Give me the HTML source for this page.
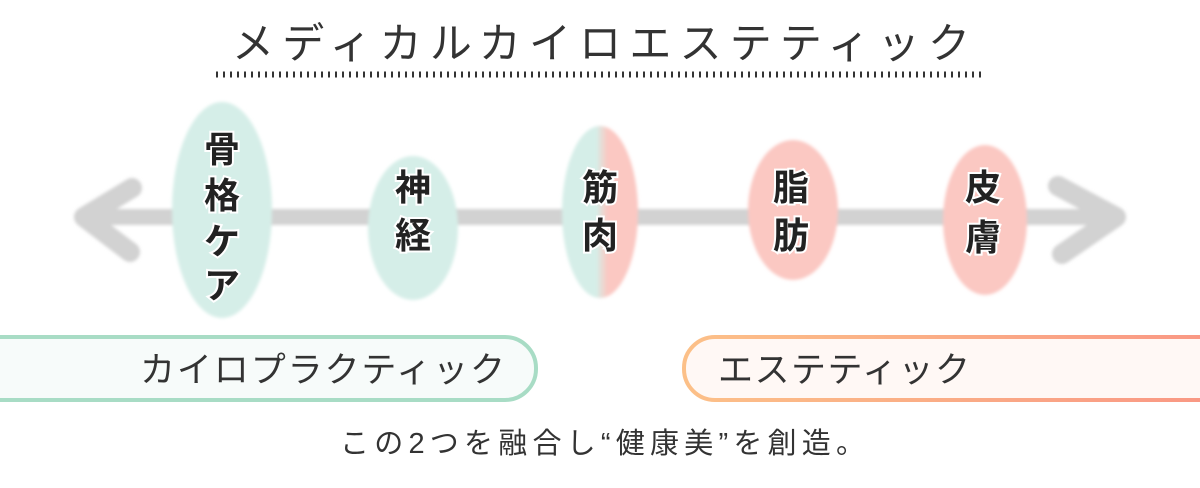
<!DOCTYPE html>
<html><head><meta charset="utf-8"><style>
html,body{margin:0;padding:0;background:#fff;}
svg{display:block;}
text{font-family:"Liberation Sans","Noto Sans CJK JP",sans-serif;}
</style></head><body>
<svg width="1200" height="488" viewBox="0 0 1200 488" xmlns="http://www.w3.org/2000/svg">
<defs>
<linearGradient id="og" x1="0" x2="1"><stop offset="0" stop-color="#fcc088"/><stop offset="1" stop-color="#f99584"/></linearGradient>
<linearGradient id="mg" x1="0" x2="1"><stop offset="0" stop-color="#d5eee8"/><stop offset="0.45" stop-color="#d5eee8"/><stop offset="0.6" stop-color="#fbc8c2"/><stop offset="1" stop-color="#fbc8c2"/></linearGradient>
<filter id="bl" filterUnits="userSpaceOnUse" x="0" y="0" width="1200" height="488"><feGaussianBlur stdDeviation="1.5"/></filter>
</defs>
<text x="232" y="58" font-size="42" fill="#333" textLength="738" lengthAdjust="spacing">メディカルカイロエステティック</text>
<line x1="216" y1="76" x2="985" y2="76" stroke="#333" stroke-width="3" stroke-dasharray="2 5"/>
<line x1="216" y1="73" x2="985" y2="73" stroke="#333" stroke-width="3" stroke-dasharray="2 5"/>
<g stroke="#d2d2d2" stroke-linecap="round" fill="none" filter="url(#bl)">
<line x1="82" y1="217" x2="1118" y2="217" stroke-width="16"/>
<polyline points="132,188 84,217 130,252" stroke-width="20" stroke-linejoin="round"/>
<polyline points="1058,186 1116,217 1062,254" stroke-width="20" stroke-linejoin="round"/>
</g>
<g filter="url(#bl)">
<ellipse cx="222" cy="210" rx="50" ry="108" fill="#d5eee8"/>
<ellipse cx="413" cy="228" rx="45" ry="72" fill="#d5eee8"/>
<ellipse cx="600" cy="212" rx="38" ry="86" fill="url(#mg)"/>
<ellipse cx="793" cy="210" rx="45" ry="70" fill="#fbc8c2"/>
<ellipse cx="985" cy="220" rx="42" ry="75" fill="#fbc8c2"/>
</g>
<g font-size="36" font-weight="bold" fill="#222" text-anchor="middle" stroke="#fff" stroke-width="4" paint-order="stroke">
<text x="222" y="162">骨</text><text x="222" y="208">格</text><text x="222" y="254">ケ</text><text x="222" y="298">ア</text>
<text x="413" y="200">神</text><text x="413" y="248">経</text>
<text x="600" y="200">筋</text><text x="600" y="248">肉</text>
<text x="791" y="200">脂</text><text x="791" y="248">肪</text>
<text x="983" y="200">皮</text><text x="983" y="250">膚</text>
</g>
<rect x="-40" y="337" width="576" height="63" rx="31" fill="#f7fbfa" stroke="#a8dcc5" stroke-width="4"/>
<rect x="684" y="337" width="560" height="63" rx="31" fill="#fff8f5" stroke="url(#og)" stroke-width="4"/>
<text x="140" y="382" font-size="35" fill="#333" textLength="365" lengthAdjust="spacing">カイロプラクティック</text>
<text x="718" y="382" font-size="35" fill="#333" textLength="252" lengthAdjust="spacing">エステティック</text>
<text x="340" y="453" font-size="29" fill="#333" textLength="525" lengthAdjust="spacing">この2つを融合し“健康美”を創造。</text>
</svg>
</body></html>
